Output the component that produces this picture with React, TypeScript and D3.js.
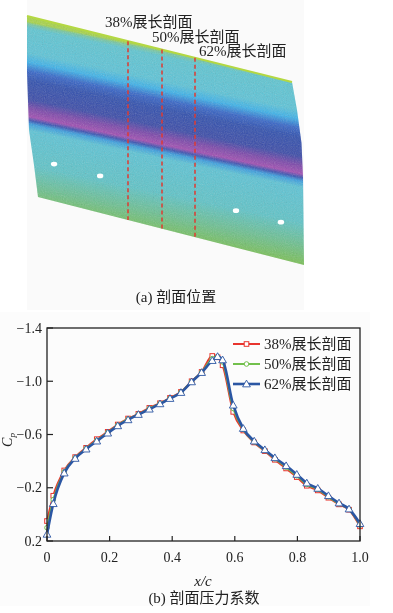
import React from "react";
import * as d3 from "d3";

// spanwise section positions shown on the PSP image
const spans = [0.38, 0.5, 0.62];
const spanLabels = ["38%展长剖面", "50%展长剖面", "62%展长剖面"];
const tapSpans = [0.115, 0.28, 0.767, 0.928];

// chordwise stations
const xc = [
  0, 0.02, 0.055, 0.09, 0.125, 0.159, 0.194, 0.226, 0.259, 0.292, 0.327, 0.361,
  0.393, 0.428, 0.462, 0.494, 0.528, 0.545, 0.561, 0.595, 0.627, 0.662, 0.696,
  0.728, 0.764, 0.798, 0.83, 0.865, 0.899, 0.933, 0.965, 1.0,
];
const cp38 = [
  0.05, -0.14, -0.33, -0.43, -0.5, -0.565, -0.62, -0.675, -0.72, -0.755, -0.8,
  -0.835, -0.875, -0.92, -1.0, -1.07, -1.19, -1.18, -1.12, -0.77, -0.63, -0.54,
  -0.475, -0.41, -0.345, -0.28, -0.215, -0.18, -0.125, -0.075, -0.035, 0.09,
];
const cp50 = [
  0.1, -0.11, -0.32, -0.425, -0.495, -0.555, -0.615, -0.67, -0.715, -0.752,
  -0.795, -0.832, -0.872, -0.918, -0.998, -1.068, -1.17, -1.185, -1.145, -0.795,
  -0.638, -0.545, -0.48, -0.418, -0.355, -0.29, -0.225, -0.188, -0.132, -0.08,
  -0.038, 0.08,
];
const cp62 = [
  0.15, -0.08, -0.31, -0.42, -0.49, -0.55, -0.61, -0.665, -0.71, -0.75, -0.79,
  -0.83, -0.87, -0.915, -0.995, -1.065, -1.155, -1.185, -1.16, -0.82, -0.645,
  -0.55, -0.485, -0.425, -0.365, -0.3, -0.235, -0.195, -0.14, -0.085, -0.04, 0.07,
];
const seriesNames = ["38%展长剖面", "50%展长剖面", "62%展长剖面"];

const xTicks = [0, 0.2, 0.4, 0.6, 0.8, 1.0];
const yTicks = [-1.4, -1.0, -0.6, -0.2, 0.2];

const FONT = "'Liberation Serif', 'Times New Roman', 'Noto Sans CJK SC', serif";

export default function App() {
  const W = 393;
  const H = 613;

  // ---- top: wing surface image ----
  const spanX = d3.scaleLinear().domain([0, 1]).range([22, 301]);
  const topEdge = (x: number) => 16 + (x - 27) * 0.249;
  const botEdge = (x: number) => 197 + (x - 38) * 0.256;

  const outline: [number, number][] = [
    [27, 16], [292, 82], [297, 110], [301.5, 143], [303, 177], [304, 265],
    [38, 197], [34, 165], [29, 130], [27, 72],
  ];
  const wingPath = d3.line().curve(d3.curveLinearClosed)(outline) as string;

  const bandStops: [number, string][] = [
    [0, "#a8d448"], [0.012, "#78c8a0"], [0.035, "#5ec6d2"], [0.17, "#5cc4d8"],
    [0.22, "#3cb2ea"], [0.27, "#3565c8"], [0.32, "#2f4fae"], [0.42, "#3a4aa8"],
    [0.47, "#7a46aa"], [0.515, "#a04db2"], [0.535, "#3a52b2"], [0.555, "#3a9ee0"],
    [0.59, "#5cc4d6"], [0.78, "#5ec4c8"], [0.9, "#6cc090"], [1, "#78c058"],
  ];

  // ---- bottom: Cp chart ----
  const x = d3.scaleLinear().domain([0, 1]).range([47, 360]);
  const y = d3.scaleLinear().domain([-1.4, 0.2]).range([328, 541]);
  const line = d3
    .line<number>()
    .x((_, i) => x(xc[i]))
    .y((d) => y(d))
    .curve(d3.curveMonotoneX);
  const fmt = d3.format(".1f");

  const series = [
    { name: seriesNames[0], values: cp38, color: "#e8352e", width: 2, marker: "square" },
    { name: seriesNames[1], values: cp50, color: "#72c04c", width: 2, marker: "circle" },
    { name: seriesNames[2], values: cp62, color: "#2b56a3", width: 2.6, marker: "triangle" },
  ];
  const tri = d3.symbol().type(d3.symbolTriangle).size(26)() as string;

  const marker = (kind: string, cx: number, cy: number, color: string, key: any) => {
    if (kind === "square")
      return <rect key={key} x={cx - 2.3} y={cy - 2.3} width={4.6} height={4.6} fill="#fff" stroke={color} strokeWidth={1} />;
    if (kind === "circle")
      return <circle key={key} cx={cx} cy={cy} r={2.3} fill="#fff" stroke={color} strokeWidth={1} />;
    return <path key={key} d={tri} transform={`translate(${cx},${cy + 0.6})`} fill="#fff" stroke={color} strokeWidth={0.9} />;
  };

  return (
    <svg width={W} height={H} style={{ position: "absolute", left: 0, top: 0, background: "#fff" }} fontFamily={FONT}>
      <defs>
        <linearGradient id="band" gradientUnits="userSpaceOnUse" x1={165} y1={50.4} x2={128} y2={226.6}>
          {bandStops.map(([o, c], i) => (
            <stop key={i} offset={o} stopColor={c} />
          ))}
        </linearGradient>
        <clipPath id="wingClip">
          <path d={wingPath} />
        </clipPath>
        <filter id="noise" x="0" y="0" width="100%" height="100%">
          <feTurbulence type="fractalNoise" baseFrequency="0.9" numOctaves="2" seed="7" />
          <feColorMatrix type="saturate" values="0" />
        </filter>
      </defs>

      {/* photo background panels */}
      <rect x={27} y={0} width={277} height={310} fill="#fafafa" />
      <rect x={0} y={312} width={370} height={294} fill="#fcfcfc" />

      {/* wing surface */}
      <path d={wingPath} fill="url(#band)" />
      <g clipPath="url(#wingClip)">
        <rect x={20} y={10} width={290} height={260} filter="url(#noise)" opacity={0.3} style={{ mixBlendMode: "overlay" }} />
      </g>
      <line x1={27} y1={16} x2={292} y2={82} stroke="#b4d842" strokeWidth={2} />

      {tapSpans.map((s, i) => {
        const cx = spanX(s);
        return <ellipse key={i} cx={cx} cy={botEdge(cx) - 37} rx={3.2} ry={2.4} fill="#fff" />;
      })}

      {spans.map((s, i) => {
        const lx = Math.round(spanX(s));
        const dx = [-23, -10, 4][i];
        return (
          <g key={i}>
            <line x1={lx} y1={topEdge(lx)} x2={lx} y2={botEdge(lx)} stroke="#e03a30" strokeWidth={1.5} strokeDasharray="4,3" />
            <text x={lx + dx} y={27 + i * 14.5} fontSize={15} fill="#222">
              {spanLabels[i]}
            </text>
          </g>
        );
      })}
      <text x={176} y={302} fontSize={15} textAnchor="middle" fill="#222">
        (a) 剖面位置
      </text>

      {/* Cp chart */}
      {series.map((s) => (
        <g key={s.name}>
          <path d={line(s.values) as string} fill="none" stroke={s.color} strokeWidth={s.width} strokeLinejoin="round" />
          {s.values.map((v, i) => marker(s.marker, x(xc[i]), y(v), s.color, i))}
        </g>
      ))}

      <rect x={47} y={328} width={313} height={213} fill="none" stroke="#222" strokeWidth={1.3} />

      {xTicks.map((t) => (
        <g key={t}>
          <line x1={x(t)} x2={x(t)} y1={541} y2={536} stroke="#222" strokeWidth={1.2} />
          <text x={x(t)} y={562} fontSize={14} textAnchor="middle" fill="#222">
            {t === 0 ? "0" : fmt(t)}
          </text>
        </g>
      ))}
      {yTicks.map((t) => (
        <g key={t}>
          <line x1={47} x2={53} y1={y(t)} y2={y(t)} stroke="#222" strokeWidth={1.2} />
          <text x={42} y={y(t)} fontSize={14} textAnchor="end" dominantBaseline="central" fill="#222">
            {fmt(t)}
          </text>
        </g>
      ))}

      <text transform="translate(12,440) rotate(-90)" fontSize={14} fontStyle="italic" textAnchor="middle" fill="#222">
        C<tspan fontSize={9} dy={3}>p</tspan>
      </text>
      <text x={203} y={586} fontSize={15} fontStyle="italic" textAnchor="middle" fill="#222">
        x/c
      </text>
      <text x={204} y={603} fontSize={15} textAnchor="middle" fill="#222">
        (b) 剖面压力系数
      </text>

      {/* legend */}
      {series.map((s, i) => {
        const ly = 344 + i * 20;
        return (
          <g key={s.name}>
            <line x1={233} x2={260} y1={ly} y2={ly} stroke={s.color} strokeWidth={s.width} />
            {marker(s.marker, 246.5, ly, s.color, "m")}
            <text x={264} y={ly + 5} fontSize={15} fill="#222">
              {s.name}
            </text>
          </g>
        );
      })}
    </svg>
  );
}
